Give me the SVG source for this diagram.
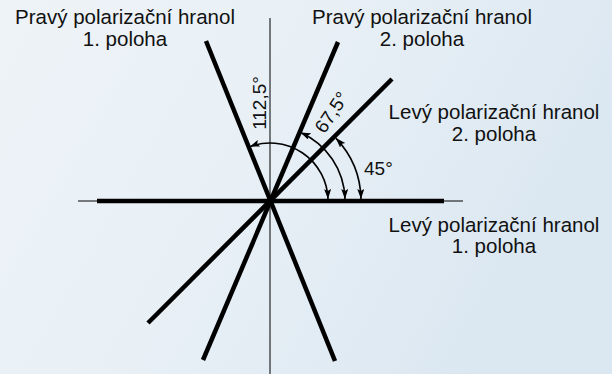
<svg xmlns="http://www.w3.org/2000/svg" width="612" height="374" viewBox="0 0 612 374">
  <defs>
    <linearGradient id="bg" x1="0" y1="0" x2="1" y2="0.35">
      <stop offset="0" stop-color="#eef3f7"/>
      <stop offset="0.5" stop-color="#e8f0f6"/>
      <stop offset="1" stop-color="#dbe7f1"/>
    </linearGradient>
    <marker id="ah" markerUnits="userSpaceOnUse" markerWidth="12" markerHeight="8" refX="10" refY="3.5" orient="auto-start-reverse" viewBox="0 0 12 8">
      <path d="M0,0 L10,3.5 L0,7 L2,3.5 z" fill="#000"/>
    </marker>
    <style>
      .lbl { font-family: "Liberation Sans", Arial, sans-serif; font-size: 20.5px; fill: #111; text-anchor: middle; }
      .ang { font-family: "Liberation Sans", Arial, sans-serif; font-size: 19px; fill: #111; }
      .thick { stroke: #000; stroke-width: 4.5; fill: none; }
      .thin { stroke: #000; stroke-width: 1; fill: none; }
      .arc { stroke: #000; stroke-width: 1.6; fill: none; marker-start: url(#ah); marker-end: url(#ah); }
    </style>
  </defs>
  <rect width="612" height="374" fill="url(#bg)"/>

  <g id="connectors">
    <line class="thin" x1="270" y1="18" x2="270" y2="374"/>
    <line class="thin" x1="78" y1="201" x2="463" y2="201"/>
    <line class="thick" x1="97" y1="201" x2="444" y2="201"/>
    <line class="thick" x1="206" y1="41" x2="335" y2="361"/>
    <line class="thick" x1="338" y1="42" x2="203" y2="360"/>
    <line class="thick" x1="392" y1="79" x2="148" y2="323"/>
    <path class="arc" d="M328,199 A58,58 0 0 0 249.7,146.7"/>
    <path class="arc" d="M345,199 A75,75 0 0 0 300.5,132.5"/>
    <path class="arc" d="M361,199 A91,91 0 0 0 335.8,138.1"/>
  </g>

  <g id="pravy1">
    <text class="lbl" x="125" y="24">Pravý polarizační hranol</text>
    <text class="lbl" x="125" y="46">1. poloha</text>
  </g>
  <g id="pravy2">
    <text class="lbl" x="422" y="24">Pravý polarizační hranol</text>
    <text class="lbl" x="422" y="46">2. poloha</text>
  </g>
  <g id="levy2">
    <text class="lbl" x="494" y="119">Levý polarizační hranol</text>
    <text class="lbl" x="494" y="141">2. poloha</text>
  </g>
  <g id="levy1">
    <text class="lbl" x="494" y="232">Levý polarizační hranol</text>
    <text class="lbl" x="494" y="253">1. poloha</text>
  </g>

  <g id="angles">
    <text class="ang" text-anchor="middle" transform="translate(266,103) rotate(-90)">112,5°</text>
    <text class="ang" text-anchor="middle" transform="translate(337,116) rotate(-56.25)">67,5°</text>
    <text class="ang" x="364" y="175">45°</text>
  </g>
</svg>
